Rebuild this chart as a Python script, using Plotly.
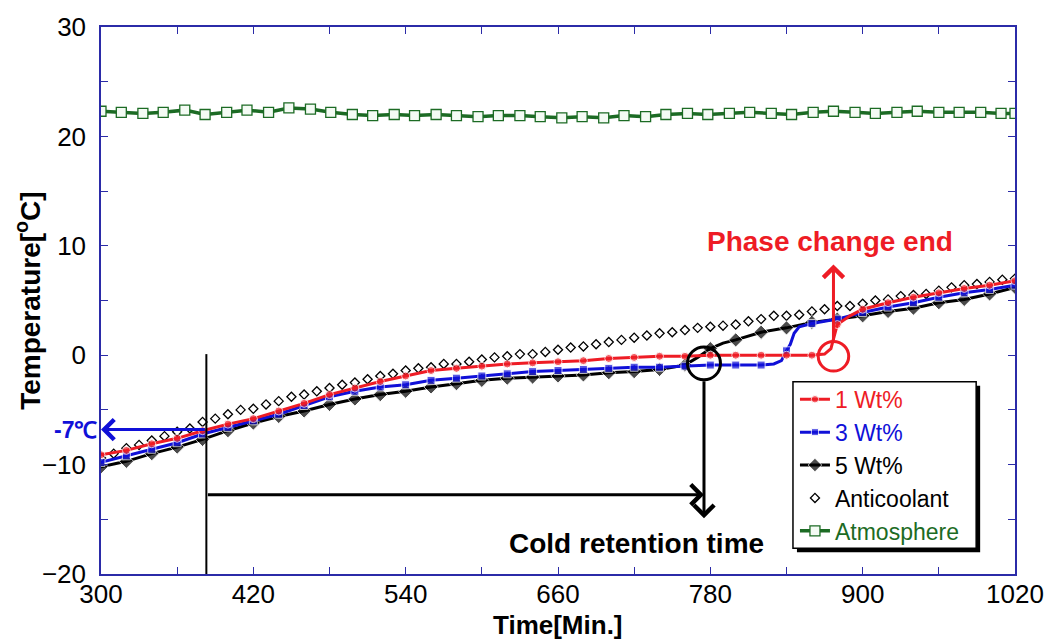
import plotly.graph_objects as go

# ---------------- data ----------------
t_red = [300, 320, 340, 360, 380, 400, 420, 440, 460, 480, 500, 520, 540, 560, 580, 600,
         620, 640, 660, 680, 700, 720, 740, 760, 780, 800, 820, 840, 860, 870, 875, 880,
         890, 900, 920, 940, 960, 980, 1000, 1020]
v_red = [-9.1, -8.7, -8.1, -7.6, -6.9, -6.3, -5.8, -5.1, -4.4, -3.6, -3.0, -2.4, -1.9, -1.4,
         -1.2, -1.0, -0.8, -0.7, -0.6, -0.5, -0.3, -0.2, -0.1, -0.1, 0.0, 0.0, 0.0, 0.0, 0.0,
         0.1, 0.6, 2.8, 3.6, 4.2, 4.8, 5.3, 5.7, 6.1, 6.4, 6.8]

t_blue = [300, 320, 340, 360, 380, 400, 420, 440, 460, 480, 500, 520, 540, 560, 580, 600,
          620, 640, 660, 680, 700, 720, 740, 760, 780, 800, 820, 830, 836, 840, 843, 846,
          850, 860, 880, 900, 920, 940, 960, 980, 1000, 1020]
v_blue = [-9.8, -9.2, -8.6, -8.0, -7.2, -6.6, -6.0, -5.4, -4.6, -3.8, -3.3, -2.9, -2.7, -2.3,
          -2.1, -1.9, -1.7, -1.5, -1.4, -1.3, -1.2, -1.1, -1.1, -1.0, -0.9, -0.9, -0.9, -0.8,
          -0.5, 0.4, 1.0, 2.0, 2.6, 2.9, 3.3, 3.9, 4.4, 4.8, 5.3, 5.7, 6.0, 6.4]

t_black = [300, 320, 340, 360, 380, 400, 420, 440, 460, 480, 500, 520, 540, 560, 580, 600,
           620, 640, 660, 680, 700, 720, 740, 760, 770, 780, 790, 800, 820, 840, 860, 880,
           900, 920, 940, 960, 980, 1000, 1020]
v_black = [-10.2, -9.7, -9.0, -8.4, -7.7, -6.9, -6.2, -5.6, -5.1, -4.5, -4.0, -3.6, -3.3,
           -2.9, -2.6, -2.3, -2.1, -2.0, -1.9, -1.8, -1.6, -1.5, -1.3, -0.9, -0.2, 0.6, 1.1,
           1.4, 2.1, 2.5, 3.0, 3.3, 3.6, 4.0, 4.3, 4.8, 5.1, 5.6, 6.2]

t_anti = list(range(300, 1021, 10))
v_anti = [-9.4, -9.0, -8.5, -8.2, -7.8, -7.4, -7.0, -6.7, -6.1, -5.8, -5.4, -5.0, -4.9,
          -4.5, -4.2, -3.8, -3.6, -3.3, -3.0, -2.7, -2.5, -2.2, -1.9, -1.7, -1.4, -1.2,
          -1.1, -0.8, -0.8, -0.6, -0.4, -0.2, -0.1, 0.1, 0.1, 0.3, 0.5, 0.7, 0.8, 1.0, 1.2,
          1.4, 1.6, 1.8, 2.0, 2.1, 2.3, 2.5, 2.6, 2.7, 2.8, 3.1, 3.3, 3.6, 3.6, 3.7, 4.0,
          4.2, 4.5, 4.5, 4.7, 5.0, 5.1, 5.4, 5.5, 5.6, 5.9, 6.2, 6.4, 6.5, 6.7, 6.9, 7.0]

t_atm = [300, 316, 333, 349, 366, 382, 399, 415, 432, 448, 465, 481, 498, 514, 531, 547,
         564, 580, 597, 613, 630, 646, 663, 679, 696, 712, 729, 745, 762, 778, 795, 811,
         828, 844, 861, 877, 894, 910, 927, 943, 960, 976, 993, 1009, 1020]
v_atm = [22.3, 22.2, 22.1, 22.2, 22.4, 22.0, 22.2, 22.4, 22.2, 22.6, 22.5, 22.2, 22.0,
         21.9, 22.0, 21.9, 22.0, 21.9, 21.8, 21.9, 21.9, 21.8, 21.7, 21.8, 21.7, 21.9,
         21.8, 22.0, 22.1, 22.0, 22.1, 22.2, 22.1, 22.0, 22.2, 22.3, 22.2, 22.1, 22.2,
         22.3, 22.2, 22.2, 22.2, 22.1, 22.1]

x_ticks = [300, 420, 540, 660, 780, 900, 1020]
y_ticks = [-20, -10, 0, 10, 20, 30]

# annotation anchor values (data units)
t_start = 383        # start of cold retention (vertical line)
t_end = 775          # end of cold retention (black circle)
t_phase = 877        # phase change end (red circle)
temp_start = -6.8

RED = "#ee1c25"
BLUE = "#1010d8"
BLACK = "#000000"
GREEN = "#1c6b24"
AXIS = "#2b2ba8"
FONT = "Arial, Liberation Sans, sans-serif"

# plot area in pixels (for paper-coordinate helpers)
L, R, T, B = 101, 1019, 22, 574


def px(x):
    return (x - L) / (R - L)


def py(y):
    return (B - y) / (B - T)


def sizes(ts, big, step=20):
    return [big if t % step == 0 else 0 for t in ts]


fig = go.Figure()

fig.add_trace(go.Scatter(
    x=t_anti, y=v_anti, mode="markers", name="<span style='color:#000'>Anticoolant</span>",
    marker=dict(symbol="diamond", size=7, color="white", line=dict(color=BLACK, width=1.3)),
    legendrank=4))
fig.add_trace(go.Scatter(
    x=t_black, y=v_black, mode="lines+markers", name="<span style='color:#000'>5 Wt%</span>",
    line=dict(color=BLACK, width=3), marker=dict(symbol="diamond", size=sizes(t_black, 11), color=BLACK),
    legendrank=3))
fig.add_trace(go.Scatter(
    x=t_blue, y=v_blue, mode="lines+markers", name=f"<span style='color:{BLUE}'>3 Wt%</span>",
    line=dict(color=BLUE, width=3), marker=dict(symbol="square", size=sizes(t_blue, 8), color=BLUE),
    legendrank=2))
fig.add_trace(go.Scatter(
    x=t_red, y=v_red, mode="lines+markers", name=f"<span style='color:{RED}'>1 Wt%</span>",
    line=dict(color=RED, width=3), marker=dict(symbol="circle", size=sizes(t_red, 8), color=RED),
    legendrank=1))
fig.add_trace(go.Scatter(
    x=t_atm, y=v_atm, mode="lines+markers", name=f"<span style='color:{GREEN}'>Atmosphere</span>",
    line=dict(color=GREEN, width=3.5),
    marker=dict(symbol="square", size=10, color="#f4fbf4", line=dict(color=GREEN, width=1.3)),
    legendrank=5))

# ---------------- shapes ----------------
shapes = []
# legend shadow + box
shapes.append(dict(type="rect", xref="paper", yref="paper", x0=px(800), x1=px(984),
                   y0=py(552), y1=py(384), fillcolor=BLACK, line=dict(width=0), layer="above"))
shapes.append(dict(type="rect", xref="paper", yref="paper", x0=px(796), x1=px(980),
                   y0=py(548), y1=py(380), fillcolor="white",
                   line=dict(color=BLACK, width=1.5), layer="above"))
# vertical start line
shapes.append(dict(type="line", xref="x", yref="y", x0=t_start, x1=t_start, y0=0.1, y1=-20,
                   line=dict(color=BLACK, width=2)))
# black circle
shapes.append(dict(type="circle", xref="x", yref="y", x0=t_end - 13, x1=t_end + 13,
                   y0=-2.25, y1=0.75, line=dict(color=BLACK, width=3)))
# red circle
shapes.append(dict(type="circle", xref="x", yref="y", x0=t_phase - 12, x1=t_phase + 12,
                   y0=-1.45, y1=1.25, line=dict(color=RED, width=3)))

annotations = []
# blue -7C arrow
annotations.append(dict(x=300, y=temp_start, ax=t_start, ay=temp_start, xref="x", yref="y",
                        axref="x", ayref="y", text="", showarrow=True, arrowhead=4,
                        arrowsize=1.3, arrowwidth=3, arrowcolor=BLUE))
annotations.append(dict(x=300, y=temp_start, xref="x", yref="y", xanchor="right", xshift=-2,
                        text="<b>-7℃</b>", showarrow=False,
                        font=dict(family=FONT, size=23, color=BLUE)))
# horizontal retention arrow
annotations.append(dict(x=t_end, y=-12.75, ax=t_start, ay=-12.75, xref="x", yref="y",
                        axref="x", ayref="y", text="", showarrow=True, arrowhead=4,
                        arrowsize=1.3, arrowwidth=3, arrowcolor=BLACK))
# vertical arrow from black circle
annotations.append(dict(x=t_end, y=-14.9, ax=t_end, ay=-2.25, xref="x", yref="y",
                        axref="x", ayref="y", text="", showarrow=True, arrowhead=4,
                        arrowsize=1.3, arrowwidth=3, arrowcolor=BLACK))
annotations.append(dict(x=t_end - 53, y=-17.2, xref="x", yref="y",
                        text="<b>Cold retention time</b>", showarrow=False,
                        font=dict(family=FONT, size=28, color=BLACK)))
# red arrow up
annotations.append(dict(x=t_phase, y=8.3, ax=t_phase, ay=1.25, xref="x", yref="y",
                        axref="x", ayref="y", text="", showarrow=True, arrowhead=4,
                        arrowsize=1.3, arrowwidth=3, arrowcolor=RED))
annotations.append(dict(x=t_phase - 3, y=10.4, xref="x", yref="y",
                        text="<b>Phase change end</b>", showarrow=False,
                        font=dict(family=FONT, size=28, color=RED)))
# axis titles
annotations.append(dict(x=px(27), y=0.5, xref="paper", yref="paper", textangle=-90,
                        xanchor="center", yanchor="middle",
                        text="<b>Temperature[<sup>o</sup>C]</b>", showarrow=False,
                        font=dict(family=FONT, size=28, color=BLACK)))
annotations.append(dict(x=0.5, y=py(625), xref="paper", yref="paper",
                        xanchor="center", yanchor="middle",
                        text="<b>Time[Min.]</b>", showarrow=False,
                        font=dict(family=FONT, size=26, color=BLACK)))

fig.update_layout(
    width=1056, height=642,
    margin=dict(l=L, r=1056 - R, t=T, b=642 - B),
    paper_bgcolor="white", plot_bgcolor="white",
    font=dict(family=FONT, size=26, color="black"),
    showlegend=True,
    legend=dict(x=px(798), y=py(376), xanchor="left", yanchor="top",
                bgcolor="rgba(0,0,0,0)", borderwidth=0,
                font=dict(family=FONT, size=23), itemwidth=30,
                tracegroupgap=0),
    shapes=shapes, annotations=annotations,
    hovermode=False,
)
fig.update_xaxes(range=[300, 1020], tickvals=x_ticks, ticks="inside", ticklen=7,
                 tickcolor=AXIS, linecolor=AXIS, linewidth=1.5, mirror="allticks",
                 showgrid=False, zeroline=False, ticklabelstandoff=-4,
                 minor=dict(dtick=60, tick0=300, ticks="inside", ticklen=7, tickcolor=AXIS))
fig.update_yaxes(range=[-20, 30], tickvals=y_ticks, ticks="inside", ticklen=7,
                 tickcolor=AXIS, linecolor=AXIS, linewidth=1.5, mirror="allticks",
                 showgrid=False, zeroline=False, ticklabelstandoff=8,
                 minor=dict(dtick=5, tick0=0, ticks="inside", ticklen=7, tickcolor=AXIS))

fig.write_html("out.html")
